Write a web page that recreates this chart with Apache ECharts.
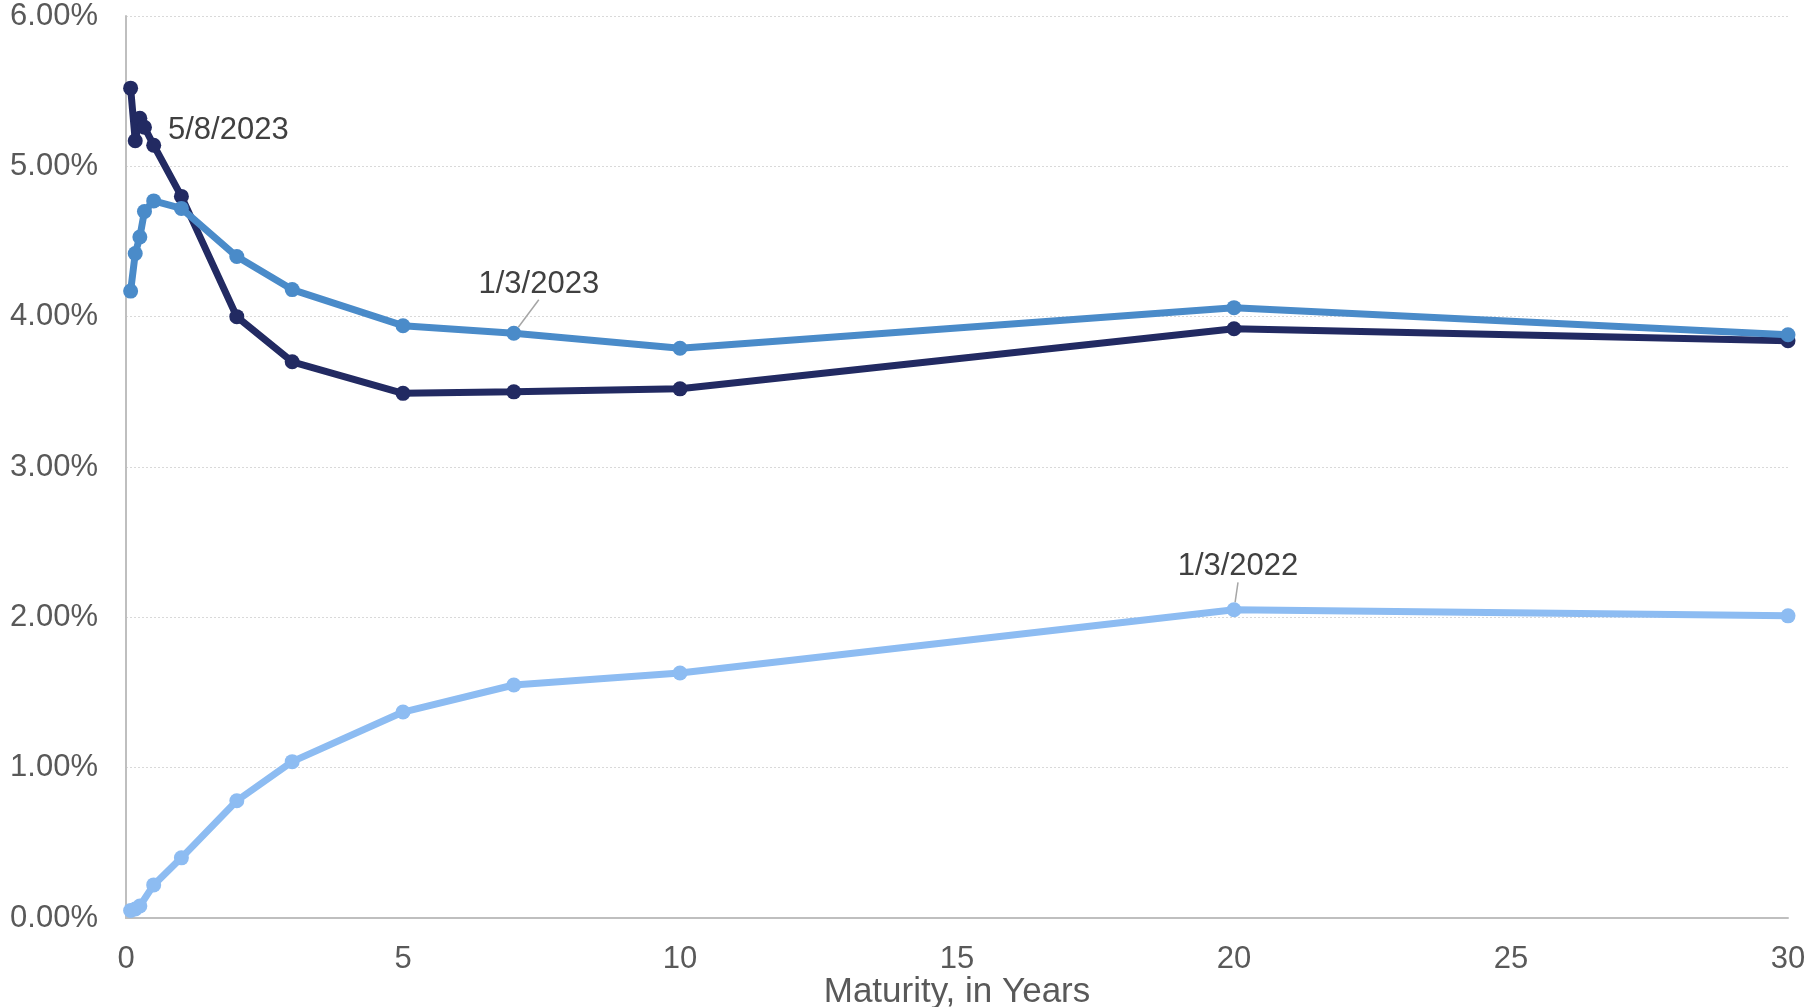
<!DOCTYPE html>
<html>
<head>
<meta charset="utf-8">
<style>
  html, body { margin: 0; padding: 0; background: #ffffff; }
  #chart { width: 1810px; height: 1007px; }
</style>
<script src="https://cdn.jsdelivr.net/npm/echarts@6/dist/echarts.min.js"></script>
</head>
<body>
<div id="chart"></div>
<script>
// Treasury yield curves: maturity (years) vs. yield (%)
const maturities2023 = [1/12, 2/12, 3/12, 4/12, 0.5, 1, 2, 3, 5, 7, 10, 20, 30];
const maturities2022 = [1/12, 2/12, 3/12, 0.5, 1, 2, 3, 5, 7, 10, 20, 30];

const yieldsMay2023 = [5.52, 5.17, 5.32, 5.26, 5.14, 4.80, 4.00, 3.70, 3.49, 3.50, 3.52, 3.92, 3.84];
const yieldsJan2023 = [4.17, 4.42, 4.53, 4.70, 4.77, 4.72, 4.40, 4.18, 3.94, 3.89, 3.79, 4.06, 3.88];
const yieldsJan2022 = [0.05, 0.06, 0.08, 0.22, 0.40, 0.78, 1.04, 1.37, 1.55, 1.63, 2.05, 2.01];

const seriesNames = ['5/8/2023', '1/3/2023', '1/3/2022'];
const xTicks = [0, 5, 10, 15, 20, 25, 30];
const yTicks = [0, 1, 2, 3, 4, 5, 6];

const FONT = 'Liberation Sans, Arial, Helvetica, sans-serif';

// pair maturities with yields; one point per curve carries the curve's name
function toData(xs, ys, labelIndex) {
  return xs.map((x, i) => {
    if (i === labelIndex) {
      return { value: [x, ys[i]], label: { show: true } };
    }
    return [x, ys[i]];
  });
}

const chart = echarts.init(document.getElementById('chart'), null, { renderer: 'canvas' });

const baseSeries = {
  type: 'line',
  symbol: 'circle',
  symbolSize: 15,
  lineStyle: { width: 7 },
  animation: false,
  label: {
    show: false,
    formatter: p => p.seriesName,
    fontFamily: FONT,
    fontSize: 31,
    color: '#404040'
  }
};

chart.setOption({
  backgroundColor: '#ffffff',
  animation: false,
  grid: { left: 126, right: 22, top: 16, bottom: 89, containLabel: false, outerBoundsMode: 'none' },
  xAxis: {
    type: 'value',
    min: xTicks[0],
    max: xTicks[xTicks.length - 1],
    interval: 5,
    name: 'Maturity, in Years',
    nameLocation: 'middle',
    nameGap: 57,
    nameMoveOverlap: false,
    nameTextStyle: { fontFamily: FONT, fontSize: 35, color: '#595959' },
    axisLine: { show: true, lineStyle: { color: '#bfbfbf', width: 2 } },
    axisTick: { show: false },
    splitLine: { show: false },
    axisLabel: { fontFamily: FONT, fontSize: 31, color: '#595959', margin: 26 }
  },
  yAxis: {
    type: 'value',
    min: yTicks[0],
    max: yTicks[yTicks.length - 1],
    interval: 1,
    axisLine: { show: true, lineStyle: { color: '#bfbfbf', width: 2 } },
    axisTick: { show: false },
    splitLine: { show: true, lineStyle: { color: '#d9d9d9', type: [2, 2], width: 1 } },
    axisLabel: {
      fontFamily: FONT, fontSize: 31, color: '#595959', margin: 28,
      formatter: v => v.toFixed(2) + '%'
    }
  },
  series: [
    Object.assign({}, baseSeries, {
      name: seriesNames[0],
      color: '#222a62',
      z: 2,
      data: toData(maturities2023, yieldsMay2023, 3),
      label: Object.assign({}, baseSeries.label, { position: 'right', distance: 16 }),
      labelLayout: { dy: 3 }
    }),
    Object.assign({}, baseSeries, {
      name: seriesNames[1],
      color: '#4a8bc9',
      z: 3,
      data: toData(maturities2023, yieldsJan2023, 9),
      label: Object.assign({}, baseSeries.label, { position: 'top', distance: 5 }),
      labelLine: { show: true, lineStyle: { color: '#a6a6a6', width: 1.5 } },
      labelLayout: { dx: 25, dy: -21 }
    }),
    Object.assign({}, baseSeries, {
      name: seriesNames[2],
      color: '#8dbcf2',
      z: 4,
      data: toData(maturities2022, yieldsJan2022, 10),
      label: Object.assign({}, baseSeries.label, { position: 'top', distance: 5 }),
      labelLine: { show: true, lineStyle: { color: '#a6a6a6', width: 1.5 } },
      labelLayout: { dx: 4, dy: -15 }
    })
  ]
});
</script>
</body>
</html>
